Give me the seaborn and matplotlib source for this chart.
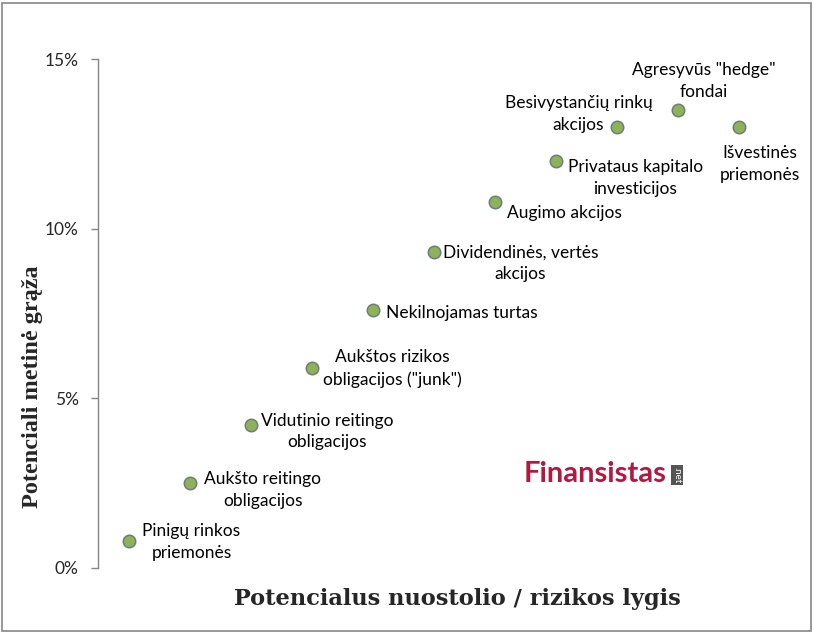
import numpy as np
import pandas as pd
import matplotlib
matplotlib.use("Agg")
import matplotlib.pyplot as plt
import matplotlib.patches as patches
from matplotlib.ticker import FuncFormatter
import seaborn as sns

# data
categories = [
    "Pinigų rinkos\npriemonės",
    "Aukšto reitingo\nobligacijos",
    "Vidutinio reitingo\nobligacijos",
    "Aukštos rizikos\nobligacijos (\"junk\")",
    "Nekilnojamas turtas",
    "Dividendinės, vertės\nakcijos",
    "Augimo akcijos",
    "Privataus kapitalo\ninvesticijos",
    "Besivystančių rinkų\nakcijos",
    "Agresyvūs \"hedge\"\nfondai",
    "Išvestinės\npriemonės",
]
risk_level = [1, 2, 3, 4, 5, 6, 7, 8, 9, 10, 11]
potential_return = [0.008, 0.025, 0.042, 0.059, 0.076, 0.093, 0.108, 0.120, 0.130, 0.135, 0.130]
y_ticks = [0.0, 0.05, 0.10, 0.15]

# label placement (offset of text centre from the marker, pixels)
label_offsets = [(63, -1), (73, -7), (77, -6), (81, -1), (89, -3), (87, -11),
                 (70, -11), (80, -17), (-38, 13), (26, 29), (21, -37)]

df = pd.DataFrame({"name": categories, "risk": risk_level, "ret": potential_return})

sns.set_style("white")
plt.rcParams["font.family"] = ["Lato", "DejaVu Sans"]

fig = plt.figure(figsize=(8.14, 6.33), dpi=100)
ax = fig.add_axes([98 / 814, 65 / 633, 671 / 814, 509 / 633])

sns.scatterplot(data=df, x="risk", y="ret", ax=ax, s=80, color="#8db25a",
                edgecolor="#6c7f73", linewidth=1.1, zorder=3, legend=False)

for i, row in df.iterrows():
    dx, dy = label_offsets[i]
    ax.annotate(row["name"], (row["risk"], row["ret"]), xytext=(dx, dy),
                textcoords="offset pixels", ha="center", va="center",
                multialignment="center", fontsize=12.5, color="black",
                linespacing=1.45)

ax.set_xlim(0.5, 11.5)
ax.set_ylim(0, 0.15)
ax.set_yticks(y_ticks)
ax.yaxis.set_major_formatter(FuncFormatter(lambda v, p: f"{v * 100:.0f}%"))
ax.set_xticks([])
ax.tick_params(axis="y", length=5, width=1, color="#868686", pad=9,
               labelsize=12.5, left=True, direction="out")
for side in ["top", "right", "bottom"]:
    ax.spines[side].set_visible(False)
ax.spines["left"].set_color("#868686")
ax.spines["left"].set_linewidth(1)

ax.set_xlabel("Potencialus nuostolio / rizikos lygis", fontsize=16.2,
              fontweight="bold", family="DejaVu Serif")
ax.xaxis.set_label_coords(0.536, -0.040)
ax.set_ylabel("Potenciali metinė grąža", fontsize=17.5, fontweight="bold",
              family="Liberation Serif")
ax.yaxis.set_label_coords(-0.082, 0.357)

# watermark
fig.text(524 / 814, 1 - 474 / 633, "Finansistas", fontsize=21, fontweight="bold",
         color="#b3183f", ha="left", va="center", family="Lato")
fig.text(677 / 814, 1 - 475 / 633, ".net", fontsize=7, color="white",
         rotation=-90, ha="center", va="center", family="Lato",
         bbox=dict(boxstyle="square,pad=0.15", fc="#555555", ec="none"))

# outer frame
fig.patches.append(patches.Rectangle((2 / 814, 2 / 633), 809 / 814, 628 / 633,
                                     transform=fig.transFigure, fill=False,
                                     edgecolor="#868686", linewidth=1.2))

fig.savefig("out.png", dpi=100)
